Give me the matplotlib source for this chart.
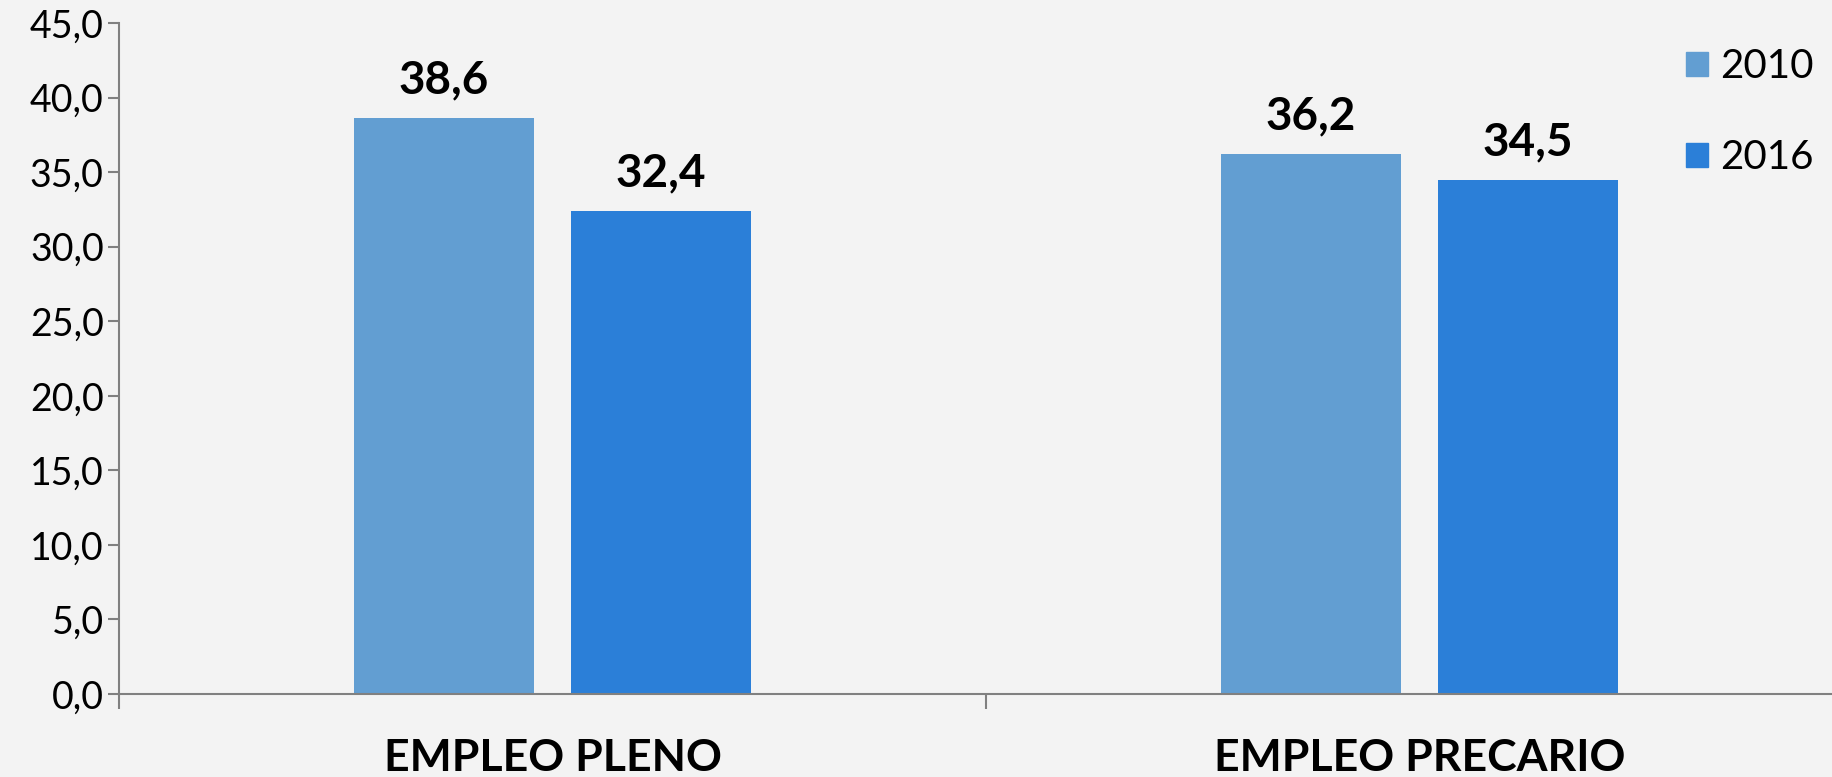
import numpy as np
import matplotlib
matplotlib.use('Agg')
import matplotlib.pyplot as plt
from matplotlib.patches import Patch

# data
categories = ['EMPLEO PLENO', 'EMPLEO PRECARIO']
years = ['2010', '2016']
val_2010 = [38.6, 36.2]
val_2016 = [32.4, 34.5]
colors = ['#629ED2', '#2B7FD8']

plt.rcParams['font.family'] = ['Lato', 'DejaVu Sans']

fig = plt.figure(figsize=(18.32, 7.77), dpi=100)
fig.patch.set_facecolor('#F3F3F3')
ax = fig.add_axes([0.065, 0.1068, 0.9465, 0.8636])
ax.set_facecolor('#F3F3F3')

x = np.arange(len(categories))
w = 0.2075
off = w / 2 + 0.0215
b1 = ax.bar(x - off, val_2010, w, color=colors[0])
b2 = ax.bar(x + off, val_2016, w, color=colors[1])

# value labels
for bars in (b1, b2):
    for r in bars:
        h = r.get_height()
        ax.annotate(('%.1f' % h).replace('.', ','), (r.get_x() + r.get_width() / 2, h),
                    xytext=(0, 12), textcoords='offset points', ha='center', va='bottom',
                    fontsize=33, fontweight='bold')

ax.set_xlim(-0.5, 1.5)
ax.set_ylim(0, 45)
yt = np.arange(0, 46, 5)
ax.set_yticks(yt)
ax.set_yticklabels([('%.1f' % v).replace('.', ',') for v in yt], fontsize=27)
ax.tick_params(axis='y', length=8, width=1.5, color='#808080', pad=3)

ax.set_xticks(x)
ax.set_xticklabels(categories, fontsize=32, fontweight='bold')
ax.tick_params(axis='x', which='major', length=0, pad=32)
ax.set_xticks([-0.5, 0.5, 1.5], minor=True)
ax.tick_params(axis='x', which='minor', length=11, width=1.5, color='#808080')

for s in ['top', 'right']:
    ax.spines[s].set_visible(False)
for s in ['left', 'bottom']:
    ax.spines[s].set_color('#808080')
    ax.spines[s].set_linewidth(1.5)

handles = [Patch(color=c) for c in colors]
fig.legend(handles, years, loc='upper left', bbox_to_anchor=(0.9005, 0.985),
           frameon=False, fontsize=29, handlelength=0.55, handleheight=0.55,
           handletextpad=0.3, labelspacing=1.35)

fig.savefig('out.png', dpi=100, facecolor=fig.get_facecolor())
